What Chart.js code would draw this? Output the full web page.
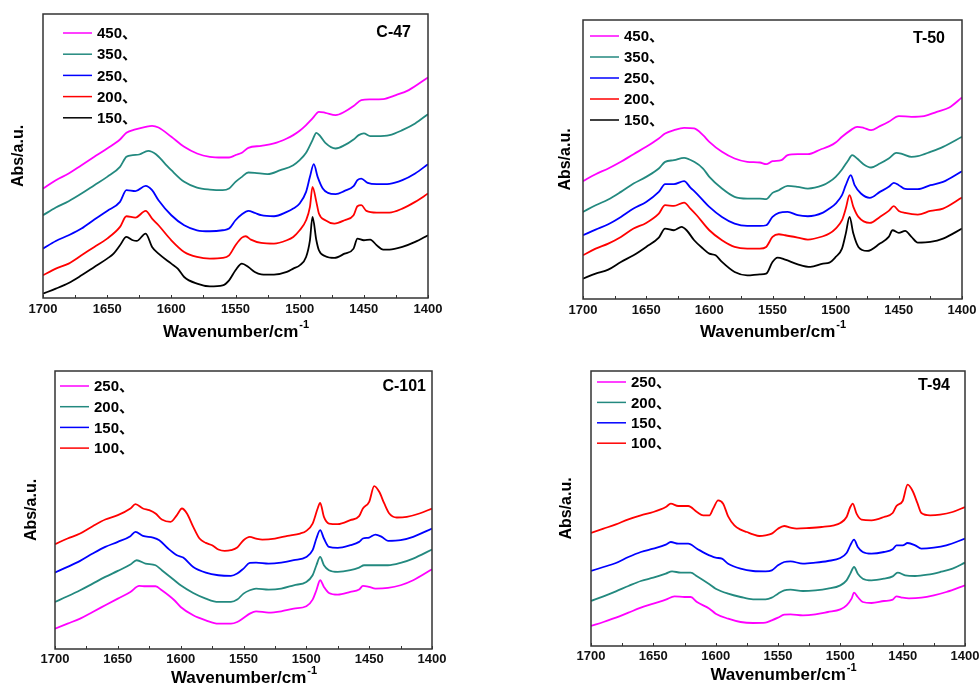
<!DOCTYPE html>
<html lang="en">
<head>
<meta charset="UTF-8">
<title>In-situ IR spectra</title>
<script src="https://cdn.jsdelivr.net/npm/chart.js@4.4.1/dist/chart.umd.min.js"></script>
<style>
  body { margin: 0; background: #fff; }
  #wrap { position: relative; width: 980px; height: 688px; }
  canvas { position: absolute; }
</style>
</head>
<body>
<div id="wrap">
  <canvas id="c47" width="490" height="344" style="left:0;top:0"></canvas>
  <canvas id="t50" width="490" height="344" style="left:490px;top:0"></canvas>
  <canvas id="c101" width="490" height="344" style="left:0;top:344px"></canvas>
  <canvas id="t94" width="490" height="344" style="left:490px;top:344px"></canvas>
</div>
<script>
// tick labels on the wavenumber axis
var xTicks = [1700, 1650, 1600, 1550, 1500, 1450, 1400];

// ---- C-47 (arbitrary absorbance units) ----
var c47_x450 = [1700,1690,1680,1670,1660,1650,1640,1635,1628,1620,1615,1610,1600,1590,1580,1570,1560,1555,1550,1545,1540,1530,1520,1510,1505,1500,1495,1490,1485,1480,1472,1465,1458,1452,1445,1435,1425,1415,1400];
var c47_y450 = [328,353,373,398,423,448,475,495,505,513,516,511,483,453,433,423,421,421,428,435,450,456,463,478,488,501,518,538,558,555,548,558,575,593,595,596,608,623,661];
var c47_x350 = [1700,1690,1680,1670,1660,1650,1640,1635,1630,1625,1618,1612,1605,1600,1590,1580,1570,1560,1555,1550,1545,1540,1535,1525,1515,1505,1500,1495,1490,1487,1484,1480,1472,1465,1458,1454,1450,1445,1440,1430,1420,1410,1400];
var c47_y350 = [248,271,290,313,338,363,393,423,428,430,441,431,403,383,348,331,325,323,328,348,363,376,375,371,383,398,413,435,473,495,485,465,448,458,475,488,493,485,485,488,503,523,551];
var c47_x250 = [1700,1690,1680,1670,1660,1650,1640,1635,1628,1620,1615,1610,1600,1590,1580,1570,1560,1555,1550,1545,1540,1535,1530,1520,1510,1505,1500,1495,1492,1489,1486,1482,1478,1472,1465,1458,1455,1452,1447,1440,1430,1420,1410,1400];
var c47_y250 = [148,171,188,208,235,261,288,323,320,336,323,293,248,218,203,200,203,208,233,251,261,255,248,245,258,268,283,318,363,401,363,328,315,311,321,335,353,358,345,341,342,353,373,401];
var c47_x200 = [1700,1690,1680,1670,1660,1650,1640,1635,1628,1620,1615,1610,1600,1590,1580,1570,1560,1555,1550,1545,1542,1538,1530,1520,1510,1505,1500,1495,1492,1490,1487,1485,1480,1473,1465,1458,1455,1452,1448,1440,1430,1420,1410,1400];
var c47_y200 = [68,88,103,128,153,178,213,245,241,261,238,218,173,138,123,118,120,128,158,181,185,175,165,163,173,183,203,233,273,333,288,253,233,223,233,248,275,278,261,256,256,268,288,313];
var c47_x150 = [1700,1690,1680,1670,1660,1650,1645,1640,1635,1630,1627,1620,1615,1610,1600,1595,1590,1580,1570,1560,1555,1550,1545,1540,1535,1530,1520,1510,1505,1500,1495,1492,1490,1487,1485,1480,1473,1465,1458,1455,1450,1445,1440,1435,1430,1420,1410,1400];
var c47_y150 = [13,28,45,68,93,118,133,158,183,173,171,193,153,133,103,88,63,43,35,38,53,83,103,93,78,71,70,78,88,98,123,173,243,173,143,125,120,133,148,178,173,175,158,145,145,153,168,188];

// ---- T-50 ----
var t50_x450 = [1700,1690,1680,1670,1660,1650,1640,1635,1628,1620,1612,1605,1600,1590,1580,1570,1560,1555,1550,1543,1538,1530,1522,1512,1505,1500,1495,1488,1483,1478,1472,1465,1458,1450,1440,1430,1420,1410,1400];
var t50_y450 = [353,374,391,411,434,456,481,496,506,513,511,491,471,441,421,411,409,404,413,416,431,434,434,448,458,469,486,506,516,513,506,518,531,548,546,548,561,574,604];
var t50_x350 = [1700,1690,1680,1670,1660,1650,1640,1635,1628,1620,1612,1605,1600,1590,1580,1570,1560,1555,1550,1545,1538,1530,1522,1510,1505,1500,1495,1490,1487,1483,1478,1472,1465,1458,1452,1447,1440,1435,1425,1415,1400];
var t50_y350 = [261,281,298,321,346,366,391,411,416,423,411,391,366,331,306,301,301,299,318,326,339,336,331,341,351,366,388,416,431,421,404,394,406,421,438,434,426,428,441,456,486];
var t50_x250 = [1700,1690,1680,1670,1660,1650,1640,1635,1628,1620,1615,1610,1600,1590,1580,1570,1560,1555,1550,1545,1538,1530,1522,1510,1505,1500,1495,1492,1488,1485,1480,1473,1465,1458,1454,1450,1445,1435,1425,1415,1400];
var t50_y250 = [191,208,224,246,271,291,321,344,344,353,334,316,276,246,226,219,219,221,246,258,261,251,248,259,271,286,311,341,371,341,316,303,321,336,348,341,330,329,341,351,383];
var t50_x200 = [1700,1690,1680,1670,1660,1650,1640,1635,1628,1620,1615,1610,1600,1590,1580,1570,1560,1555,1550,1545,1540,1530,1522,1510,1505,1500,1495,1492,1489,1486,1482,1473,1465,1458,1454,1450,1445,1435,1425,1415,1400];
var t50_y200 = [131,151,166,186,211,228,256,281,279,289,271,251,206,176,156,151,151,156,186,194,191,184,178,188,196,211,236,271,311,276,246,228,246,264,278,264,258,253,264,271,304];
var t50_x150 = [1700,1690,1680,1670,1660,1650,1640,1635,1628,1622,1618,1612,1605,1600,1595,1590,1580,1570,1560,1555,1550,1546,1540,1530,1520,1510,1505,1500,1495,1492,1489,1486,1482,1475,1465,1458,1455,1450,1445,1440,1435,1425,1415,1400];
var t50_y150 = [61,76,88,111,131,156,184,211,206,216,206,176,151,136,131,111,81,71,74,76,111,124,118,104,96,106,109,126,151,196,246,196,156,144,166,186,206,198,204,186,169,171,181,211];

// ---- C-101 ----
var c101_x250 = [1700,1690,1680,1670,1660,1650,1640,1633,1628,1620,1615,1605,1600,1590,1580,1570,1560,1555,1550,1545,1540,1530,1520,1510,1500,1495,1492,1489,1486,1482,1475,1465,1458,1455,1450,1445,1435,1425,1415,1400];
var c101_y250 = [61,76,91,111,131,151,171,189,188,188,176,146,126,101,86,76,76,81,93,106,113,109,113,121,128,148,176,206,186,168,163,171,178,189,186,181,183,191,206,239];
var c101_x200 = [1700,1690,1680,1670,1660,1650,1640,1635,1628,1620,1615,1605,1600,1590,1580,1570,1560,1555,1550,1545,1540,1530,1520,1510,1500,1495,1492,1489,1486,1482,1475,1465,1458,1454,1445,1435,1425,1415,1400];
var c101_y200 = [141,158,176,196,216,234,253,266,256,251,236,206,191,168,151,141,141,148,166,176,181,178,181,191,201,221,251,276,251,236,231,236,244,251,251,251,258,271,298];
var c101_x150 = [1700,1690,1680,1670,1660,1650,1640,1636,1630,1622,1617,1610,1603,1598,1590,1580,1570,1560,1555,1550,1545,1540,1530,1520,1510,1500,1495,1492,1489,1486,1482,1475,1465,1458,1455,1450,1445,1440,1435,1425,1415,1400];
var c101_y150 = [229,246,264,286,306,321,338,351,339,334,326,301,281,274,246,229,221,219,226,241,258,259,256,259,266,276,296,331,356,331,306,303,311,321,331,334,343,336,324,326,336,361];
var c101_x100 = [1700,1690,1680,1670,1660,1650,1640,1636,1630,1625,1620,1615,1608,1603,1599,1595,1590,1585,1580,1575,1570,1565,1560,1555,1550,1545,1540,1535,1525,1515,1505,1500,1495,1491,1489,1486,1482,1475,1465,1458,1455,1450,1446,1442,1438,1434,1428,1420,1410,1400];
var c101_y100 = [314,331,346,368,388,401,421,434,421,416,406,388,381,401,421,406,366,331,318,311,298,294,296,304,326,336,331,328,331,339,346,354,376,421,438,396,376,374,386,398,421,441,488,471,436,406,394,396,406,421];

// ---- T-94 ----
var t94_x250 = [1700,1690,1680,1670,1660,1650,1640,1633,1625,1620,1615,1605,1600,1590,1580,1570,1560,1555,1550,1545,1540,1530,1520,1510,1500,1495,1491,1489,1486,1482,1475,1465,1458,1455,1450,1445,1435,1425,1415,1400];
var t94_y250 = [60,72,85,100,115,127,139,149,147,147,132,112,97,82,72,69,70,77,85,94,95,92,95,102,110,122,142,160,147,132,129,135,139,149,145,143,145,152,162,182];
var t94_x200 = [1700,1690,1680,1670,1660,1650,1640,1635,1628,1620,1615,1605,1600,1590,1580,1570,1560,1555,1550,1545,1540,1530,1520,1510,1500,1495,1492,1489,1486,1482,1475,1465,1458,1454,1448,1440,1430,1420,1410,1400];
var t94_y200 = [135,149,164,180,195,205,217,224,220,220,209,185,172,157,147,140,140,145,157,167,169,165,167,172,182,197,217,237,217,202,197,202,209,220,212,210,214,222,232,250];
var t94_x150 = [1700,1690,1680,1670,1660,1650,1640,1636,1630,1622,1615,1608,1600,1595,1590,1580,1570,1560,1555,1550,1545,1540,1530,1520,1510,1500,1495,1492,1489,1486,1482,1475,1465,1458,1455,1450,1446,1440,1435,1425,1415,1400];
var t94_y150 = [225,237,249,267,282,292,304,312,307,307,292,277,265,262,247,232,225,224,227,242,252,254,247,250,255,264,279,302,319,297,282,277,282,290,302,302,309,302,292,295,302,322];
var t94_x100 = [1700,1690,1680,1670,1660,1650,1640,1636,1630,1622,1615,1610,1605,1602,1598,1594,1590,1585,1580,1575,1570,1565,1560,1555,1550,1545,1540,1535,1525,1515,1505,1500,1495,1492,1490,1487,1483,1475,1465,1458,1455,1450,1446,1442,1438,1435,1428,1420,1410,1400];
var t94_y100 = [339,352,365,380,392,402,417,427,420,420,402,392,392,412,437,427,389,362,349,342,335,330,332,337,352,360,355,352,354,357,362,369,387,417,427,397,379,377,387,399,420,435,484,465,427,399,392,394,402,417];

var MAGENTA = '#ff00ff', TEAL = '#23897f', BLUE = '#0000ff', RED = '#ff0000', BLACK = '#000000';
var FONT = "'Liberation Sans', Arial, 'Noto Sans CJK SC', sans-serif";

function pts(xs, ys) {
  var out = [];
  for (var i = 0; i < xs.length; i++) out.push({x: xs[i], y: ys[i]});
  return out;
}

function series(label, color, xs, ys) {
  return {
    label: label,
    data: pts(xs, ys),
    borderColor: color,
    borderWidth: 1.8,
    pointRadius: 0,
    fill: false,
    cubicInterpolationMode: 'monotone'
  };
}

// frame, inward ticks, legend, panel name and axis titles
var deco = {
  id: 'deco',
  afterDraw: function(chart, args, o) {
    var ctx = chart.ctx, a = chart.chartArea, xs = chart.scales.x;
    ctx.save();
    ctx.strokeStyle = '#333';
    ctx.lineWidth = 1.5;
    ctx.strokeRect(a.left, a.top, a.right - a.left, a.bottom - a.top);
    ctx.beginPath();
    ctx.lineWidth = 1;
    for (var v = 1400; v <= 1700; v += 25) {
      var px = Math.round(xs.getPixelForValue(v)) + 0.5;
      ctx.moveTo(px, a.bottom);
      ctx.lineTo(px, a.bottom - 3);
    }
    ctx.stroke();

    // legend
    ctx.textBaseline = 'middle';
    ctx.textAlign = 'left';
    ctx.font = 'bold 15px ' + FONT;
    chart.data.datasets.forEach(function(ds, i) {
      var y = a.top + o.legTop + i * o.legGap;
      var x0 = a.left + o.legLeft;
      ctx.strokeStyle = ds.borderColor;
      ctx.lineWidth = 1.5;
      ctx.beginPath();
      ctx.moveTo(x0, y);
      ctx.lineTo(x0 + 29, y);
      ctx.stroke();
      ctx.fillStyle = '#000';
      ctx.fillText(ds.label, x0 + 34, y + 1);
    });

    // panel name
    ctx.font = 'bold 16px ' + FONT;
    ctx.textAlign = 'right';
    ctx.fillText(o.name, a.right - o.nameRight, a.top + o.nameTop);

    // y title
    ctx.save();
    ctx.translate(a.left - o.yTitle, (a.top + a.bottom) / 2);
    ctx.rotate(-Math.PI / 2);
    ctx.textAlign = 'center';
    ctx.font = 'bold 16px ' + FONT;
    ctx.fillText('Abs/a.u.', 0, 0);
    ctx.restore();

    // x title with superscript
    ctx.textAlign = 'left';
    ctx.font = 'bold 17px ' + FONT;
    var main = 'Wavenumber/cm';
    var w1 = ctx.measureText(main).width;
    ctx.font = 'bold 11px ' + FONT;
    var w2 = ctx.measureText('-1').width;
    var cx = (a.left + a.right) / 2 + o.xTitleShift;
    var x1 = cx - (w1 + w2) / 2;
    var ty = a.bottom + o.xTitle;
    ctx.font = 'bold 17px ' + FONT;
    ctx.fillText(main, x1, ty);
    ctx.font = 'bold 11px ' + FONT;
    ctx.fillText('-1', x1 + w1 + 1, ty - 7);
    ctx.restore();
  }
};

function makePanel(id, datasets, yMax, pad, xh, tickPad, o) {
  new Chart(document.getElementById(id), {
    type: 'line',
    data: { datasets: datasets },
    options: {
      responsive: false,
      animation: false,
      devicePixelRatio: 1,
      layout: { padding: pad },
      plugins: { legend: { display: false }, tooltip: { enabled: false }, deco: o },
      scales: {
        x: {
          type: 'linear',
          reverse: true,
          min: 1400,
          max: 1700,
          afterBuildTicks: function(s) { s.ticks = xTicks.map(function(v) { return {value: v}; }); },
          afterFit: function(s) { s.height = xh; s.paddingLeft = 0; s.paddingRight = 0; },
          grid: { display: false, drawTicks: false },
          border: { display: false },
          ticks: {
            autoSkip: false,
            maxRotation: 0,
            padding: tickPad,
            color: '#111',
            font: { family: FONT, size: 13, weight: 'bold' },
            callback: function(v) { return String(v); }
          }
        },
        y: { display: false, min: 0, max: yMax }
      }
    },
    plugins: [deco]
  });
}

makePanel('c47', [
  series('450\u3001', MAGENTA, c47_x450, c47_y450),
  series('350\u3001', TEAL, c47_x350, c47_y350),
  series('250\u3001', BLUE, c47_x250, c47_y250),
  series('200\u3001', RED, c47_x200, c47_y200),
  series('150\u3001', BLACK, c47_x150, c47_y150)
], 851, {left: 43, right: 62, top: 14, bottom: 0}, 46, 4,
  {name: 'C-47', legLeft: 20, legTop: 19, legGap: 21.2, nameRight: 17, nameTop: 19, yTitle: 24, xTitle: 34, xTitleShift: 0});

makePanel('t50', [
  series('450\u3001', MAGENTA, t50_x450, t50_y450),
  series('350\u3001', TEAL, t50_x350, t50_y350),
  series('250\u3001', BLUE, t50_x250, t50_y250),
  series('200\u3001', RED, t50_x200, t50_y200),
  series('150\u3001', BLACK, t50_x150, t50_y150)
], 836, {left: 93, right: 18, top: 20, bottom: 0}, 45, 4,
  {name: 'T-50', legLeft: 7, legTop: 16, legGap: 21, nameRight: 17, nameTop: 19, yTitle: 17, xTitle: 33, xTitleShift: 0});

makePanel('c101', [
  series('250\u3001', MAGENTA, c101_x250, c101_y250),
  series('200\u3001', TEAL, c101_x200, c101_y200),
  series('150\u3001', BLUE, c101_x150, c101_y150),
  series('100\u3001', RED, c101_x100, c101_y100)
], 833, {left: 55, right: 58, top: 27, bottom: 0}, 39, 3,
  {name: 'C-101', legLeft: 5, legTop: 15, legGap: 20.7, nameRight: 6, nameTop: 16, yTitle: 23, xTitle: 29, xTitleShift: 0});

makePanel('t94', [
  series('250\u3001', MAGENTA, t94_x250, t94_y250),
  series('200\u3001', TEAL, t94_x200, t94_y200),
  series('150\u3001', BLUE, t94_x150, t94_y150),
  series('100\u3001', RED, t94_x100, t94_y100)
], 825, {left: 101, right: 15, top: 27, bottom: 0}, 42, 3,
  {name: 'T-94', legLeft: 6, legTop: 11, legGap: 20.4, nameRight: 15, nameTop: 15, yTitle: 24, xTitle: 29, xTitleShift: 5});
</script>
</body>
</html>
